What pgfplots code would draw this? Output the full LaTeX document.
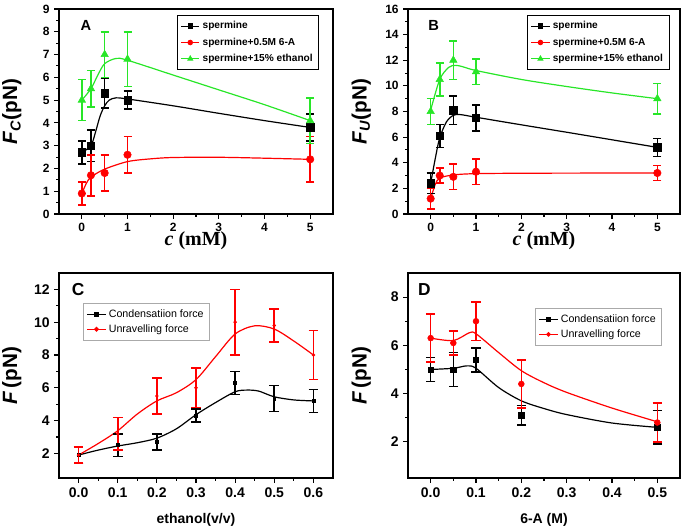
\documentclass[border=0pt]{standalone}
\usepackage{pgfplots}
\pgfplotsset{compat=1.18}
\usepackage{fontspec}
\setmainfont{Liberation Sans}
\newfontfamily\timesfont{Liberation Serif}
\definecolor{ogreen}{RGB}{40,230,40}
\definecolor{ored}{RGB}{255,0,0}
\definecolor{lgray}{RGB}{170,170,170}
\pgfplotsset{
  panel/.style={
    scale only axis,
    axis line style={line width=0.9pt},
    tick align=outside, xtick pos=bottom, ytick pos=left,
    major tick length=3.5pt, minor tick length=2pt,
    every tick/.style={black, line width=0.8pt},
    /pgf/number format/assume math mode=true,
    ticklabel style={font=\fontsize{9}{10}\selectfont\bfseries},
    legend cell align=left,
    legend style={font=\fontsize{7.6}{9}\selectfont\bfseries, draw=black, line width=0.6pt, inner sep=2.5pt, row sep=1.2pt},
    legend image code/.code={\draw[mark repeat=2, mark phase=2, #1] plot coordinates {(0cm,0cm) (0.24cm,0cm) (0.48cm,0cm)};},
    ylabel style={at={(axis description cs:-0.172,0.5)}, anchor=center, font=\fontsize{15.5}{17}\selectfont\bfseries},
  },
  curve/.style={line width=0.9pt, smooth, tension=0.5, no marks},
  dat/.style={only marks, error bars/y dir=both, error bars/y explicit,
    error bars/error bar style={line width=1.2pt, solid},
    error bars/error mark options={rotate=90, line width=1.2pt, mark size=3pt}},
  emark/.style={error bars/error mark options={rotate=90, line width=1.2pt, mark size=#1}},
}
\begin{document}
\begin{tikzpicture}
% ---------------- A ----------------
\begin{axis}[panel, at={(44.25pt,237.75pt)}, anchor=south west,
  width=205.5pt, height=153.75pt,
  xmin=-0.5, xmax=5.5, ymin=0, ymax=9,
  xtick={0,1,2,3,4,5}, ytick={0,1,...,9}, minor tick num=1,
  xlabel={\timesfont\bfseries{\itshape c} (mM)},
  xlabel style={at={(axis description cs:0.5,-0.132)}, anchor=center, font=\fontsize{15}{16}\selectfont},
  ylabel={{\itshape F}\textsubscript{\itshape C}(pN)},
  legend style={at={(0.43,0.97)}, anchor=north west},
]
\addplot[curve, black, legend image post style={mark=square*, mark size=1.6pt}] coordinates {
(0,2.7) (0.2,3.0) (0.3,3.6) (0.4,4.3) (0.5,4.75) (0.6,5.0) (0.75,5.1) (1,5.05) (2,4.75) (3,4.42) (4,4.1) (5,3.8)};
\addlegendentry{spermine}
\addplot[curve, ored, legend image post style={mark=*, mark size=1.6pt}] coordinates {
(0,0.9) (0.1,1.35) (0.2,1.62) (0.5,1.97) (1,2.3) (1.5,2.42) (2,2.48) (3,2.49) (4,2.45) (5,2.4)};
\addlegendentry{spermine+0.5M 6-A}
\addplot[curve, ogreen, legend image post style={mark=triangle*, mark size=1.9pt}] coordinates {
(0,5.0) (0.2,5.5) (0.35,6.1) (0.5,6.6) (0.75,6.83) (1,6.75) (2,6.1) (3,5.45) (4,4.8) (5,4.1)};
\addlegendentry{spermine+15\% ethanol}
\addplot[dat, black, mark=square*, mark size=2.8pt, forget plot] coordinates {
(0,2.7) +- (0,0.5) (0.2,3.0) +- (0,0.7) (0.5,5.3) +- (0,0.65) (1,5.0) +- (0,0.4) (5,3.8) +- (0,0.6)};
\addplot[dat, ored, mark=*, mark size=2.8pt, forget plot] coordinates {
(0,0.9) +- (0,0.5) (0.2,1.7) +- (0,0.9) (0.5,1.8) +- (0,0.8) (1,2.6) +- (0,0.8) (5,2.4) +- (0,1.0)};
\addplot[dat, ogreen, mark=triangle*, mark size=3.2pt, forget plot] coordinates {
(0,5.0) +- (0,0.9) (0.2,5.5) +- (0,0.8) (0.5,7.0) +- (0,1.0) (1,6.8) +- (0,1.2) (5,4.1) +- (0,1.0)};
\node[anchor=west, font=\fontsize{11}{12}\selectfont\bfseries] at (rel axis cs:0.062,0.92) {A};
\end{axis}
% ---------------- B ----------------
\begin{axis}[panel, at={(306pt,237.75pt)}, anchor=south west,
  width=204pt, height=153.75pt,
  xmin=-0.5, xmax=5.5, ymin=0, ymax=16,
  xtick={0,1,2,3,4,5}, ytick={0,2,...,16}, minor tick num=1,
  xlabel={\timesfont\bfseries{\itshape c} (mM)},
  xlabel style={at={(axis description cs:0.5,-0.132)}, anchor=center, font=\fontsize{15}{16}\selectfont},
  ylabel={{\itshape F}\textsubscript{\itshape U}(pN)},
  legend style={at={(0.4375,0.97)}, anchor=north west},
]
\addplot[curve, black, legend image post style={mark=square*, mark size=1.6pt}] coordinates {
(0,2.4) (0.1,4.3) (0.2,5.95) (0.35,7.2) (0.5,7.7) (0.65,7.76) (1,7.55) (2,6.96) (3,6.38) (4,5.79) (5,5.2)};
\addlegendentry{spermine}
\addplot[curve, ored, legend image post style={mark=*, mark size=1.6pt}] coordinates {
(0,1.2) (0.1,2.3) (0.2,2.8) (0.5,3.05) (1,3.15) (2,3.18) (3,3.19) (5,3.2)};
\addlegendentry{spermine+0.5M 6-A}
\addplot[curve, ogreen, legend image post style={mark=triangle*, mark size=1.9pt}] coordinates {
(0,8.1) (0.2,10.5) (0.4,11.45) (0.55,11.6) (0.7,11.5) (1,11.2) (2,10.5) (3,9.95) (4,9.45) (5,9.0)};
\addlegendentry{spermine+15\% ethanol}
\addplot[dat, black, mark=square*, mark size=2.8pt, forget plot] coordinates {
(0,2.4) +- (0,0.8) (0.2,6.1) +- (0,0.9) (0.5,8.1) +- (0,1.1) (1,7.5) +- (0,1.0) (5,5.2) +- (0,0.7)};
\addplot[dat, ored, mark=*, mark size=2.8pt, forget plot] coordinates {
(0,1.2) +- (0,0.8) (0.2,3.0) +- (0,0.6) (0.5,2.9) +- (0,1.0) (1,3.3) +- (0,1.0) (5,3.2) +- (0,0.6)};
\addplot[dat, ogreen, mark=triangle*, mark size=3.2pt, forget plot] coordinates {
(0,8.0) +- (0,1.0) (0.2,10.5) +- (0,1.3) (0.5,12.0) +- (0,1.5) (1,11.1) +- (0,1.0) (5,9.0) +- (0,1.2)};
\node[anchor=west, font=\fontsize{11}{12}\selectfont\bfseries] at (rel axis cs:0.058,0.92) {B};
\end{axis}
% ---------------- C ----------------
\begin{axis}[panel, at={(44.25pt,39.75pt)}, anchor=south west,
  width=205.5pt, height=153.75pt,
  xmin=-0.05, xmax=0.65, ymin=0.5, ymax=13,
  xtick={0,0.1,0.2,0.3,0.4,0.5,0.6}, ytick={2,4,...,12}, minor tick num=1,
  ticklabel style={font=\fontsize{10.5}{12}\selectfont\bfseries},
  x tick label style={/pgf/number format/fixed, /pgf/number format/fixed zerofill, /pgf/number format/precision=1},
  xlabel={ethanol(v/v)},
  xlabel style={at={(axis description cs:0.5,-0.205)}, anchor=center, font=\fontsize{10.5}{12}\selectfont\bfseries},
  ylabel={{\itshape F}\,(pN)},
  legend style={at={(0.0876,0.854)}, anchor=north west, draw=lgray, font=\fontsize{8}{9.5}\selectfont, row sep=0pt},
]
\addplot[curve, black, legend image post style={mark=square*, mark size=1.3pt}] coordinates {
(0,1.9) (0.05,2.2) (0.1,2.45) (0.15,2.65) (0.2,2.93) (0.25,3.5) (0.3,4.36) (0.35,5.1) (0.4,5.76) (0.43,5.86) (0.46,5.8) (0.5,5.45) (0.55,5.26) (0.6,5.2)};
\addlegendentry{Condensatiion force}
\addplot[curve, ored, legend image post style={mark=*, mark size=1.3pt}] coordinates {
(0,1.9) (0.05,2.6) (0.1,3.38) (0.15,4.4) (0.2,5.2) (0.25,5.7) (0.3,6.5) (0.35,7.9) (0.4,9.28) (0.45,9.78) (0.5,9.58) (0.55,8.85) (0.6,8.0)};
\addlegendentry{Unravelling force}
\addplot[dat, black, mark=square*, mark size=1.1pt, emark=3.6pt, forget plot] coordinates {
(0,1.9) +- (0,0.5) (0.1,2.5) +- (0,0.7) (0.2,2.7) +- (0,0.5) (0.3,4.3) +- (0,0.4) (0.4,6.3) +- (0,0.7) (0.5,5.35) +- (0,0.8) (0.6,5.2) +- (0,0.7)};
\addplot[dat, ored, mark=*, mark size=1.1pt, emark=3.6pt, forget plot] coordinates {
(0,1.9) +- (0,0.5) (0.1,3.2) +- (0,1.0) (0.2,5.5) +- (0,1.1) (0.3,6.0) +- (0,1.2) (0.4,10.0) +- (0,2.0) (0.5,9.8) +- (0,1.0) (0.6,8.0) +- (0,1.5)};
\node[anchor=west, font=\fontsize{13}{14}\selectfont\bfseries] at (rel axis cs:0.03,0.917) {C};
\end{axis}
% ---------------- D ----------------
\begin{axis}[panel, at={(306pt,39.75pt)}, anchor=south west,
  width=204pt, height=153.75pt,
  xmin=-0.05, xmax=0.55, ymin=0.5, ymax=9,
  xtick={0,0.1,0.2,0.3,0.4,0.5}, ytick={2,4,6,8}, minor tick num=1,
  ticklabel style={font=\fontsize{10.5}{12}\selectfont\bfseries},
  x tick label style={/pgf/number format/fixed, /pgf/number format/fixed zerofill, /pgf/number format/precision=1},
  xlabel={6-A (M)},
  xlabel style={at={(axis description cs:0.5,-0.205)}, anchor=center, font=\fontsize{10.5}{12}\selectfont\bfseries},
  ylabel={{\itshape F}\,(pN)},
  legend style={at={(0.467,0.829)}, anchor=north west, draw=lgray, font=\fontsize{8}{9.5}\selectfont, row sep=0pt},
]
\addplot[curve, black, legend image post style={mark=square*, mark size=1.3pt}] coordinates {
(0,5.0) (0.05,5.05) (0.08,5.15) (0.1,5.05) (0.15,4.25) (0.2,3.7) (0.25,3.38) (0.3,3.13) (0.4,2.78) (0.5,2.6)};
\addlegendentry{Condensatiion force}
\addplot[curve, ored, legend image post style={mark=*, mark size=1.3pt}] coordinates {
(0,6.3) (0.05,6.2) (0.085,6.52) (0.1,6.48) (0.15,5.7) (0.2,4.95) (0.25,4.45) (0.3,4.05) (0.4,3.4) (0.5,2.83)};
\addlegendentry{Unravelling force}
\addplot[dat, black, mark=square*, mark size=2pt, emark=3.6pt, forget plot] coordinates {
(0,5.0) +- (0,0.5) (0.05,5.0) +- (0,0.7) (0.1,5.4) +- (0,0.5) (0.2,3.1) +- (0,0.4) (0.5,2.6) +- (0,0.7)};
\addplot[dat, ored, mark=*, mark size=2.2pt, emark=3.6pt, forget plot] coordinates {
(0,6.3) +- (0,1.0) (0.05,6.1) +- (0,0.5) (0.1,7.0) +- (0,0.8) (0.2,4.4) +- (0,1.0) (0.5,2.8) +- (0,0.8)};
\node[anchor=west, font=\fontsize{13}{14}\selectfont\bfseries] at (rel axis cs:0.02,0.917) {D};
\end{axis}
\pgfresetboundingbox
\path[use as bounding box] (0,0) rectangle (513.75pt,398.25pt);
\end{tikzpicture}
\end{document}
